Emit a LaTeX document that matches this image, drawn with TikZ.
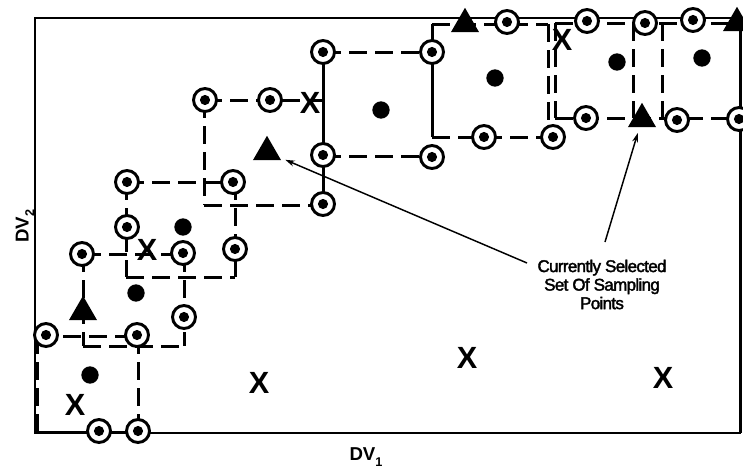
\documentclass[tikz,border=0pt]{standalone}
\usepackage{fontspec}
\setmainfont{Liberation Sans}
\newfontfamily\notefont{Liberation Sans}[LetterSpace=-4,FakeBold=2.2]
\usetikzlibrary{shapes.geometric,arrows.meta}

\begin{document}
\begin{tikzpicture}[x=0.75pt,y=-0.75pt,
  frame/.style={line width=1.5pt},
  edge/.style={line width=2.25pt, dash pattern=on 13.5pt off 6pt},
  bar/.style={line width=2.25pt},
  ring/.style={circle, draw, line width=2.2pt, fill=white, minimum size=17.25pt, inner sep=0pt,
    path picture={\fill[black] (path picture bounding box.center) circle (3.8pt);}},
  dot/.style={circle, fill, minimum size=13pt, inner sep=0pt},
  tri/.style={regular polygon, regular polygon sides=3, fill, draw=none, inner sep=0pt, minimum size=24.3pt},
  xmark/.style={font=\fontsize{23}{23}\selectfont\bfseries, inner sep=0pt},
  pointer/.style={line width=1.1pt, -{Stealth[length=7pt,width=4.5pt]}, shorten >=4.5pt},
  axis/.style={font=\fontsize{14}{14}\selectfont\bfseries, inner sep=0pt},
  note/.style={font=\notefont\fontsize{12.75}{13.9}\selectfont, align=center, inner sep=0pt}
]
\useasboundingbox (0,0) rectangle (743,468);

% plot frame
\draw[frame] (35,18) rectangle (740,433);
\draw[line width=2.25pt] (740,30) -- (740,433);

% square A
\coordinate (aTL) at (37,336); \coordinate (aTR) at (138,336);
\coordinate (aBL) at (37,432); \coordinate (aBR) at (138,432);
\draw[edge] (aTL) -- (aTR);
\draw[edge] (aTL) -- (aBL);
\draw[bar]  (aBL) -- (aBR);
\draw[edge] (aTR) -- (aBR);

% square B
\coordinate (bTL) at (83,254); \coordinate (bTR) at (184,254);
\coordinate (bBL) at (83,346); \coordinate (bBR) at (184,346);
\draw[edge] (bTL) -- (bTR);
\draw[edge] (bTL) -- (bBL);
\draw[edge] (bBL) -- (bBR);
\draw[edge] (bTR) -- (bBR);

% square C
\coordinate (cTL) at (126,182); \coordinate (cTR) at (235,182);
\coordinate (cBL) at (126,277); \coordinate (cBR) at (235,277);
\draw[edge] (cTL) -- (cTR);
\draw[edge] (cTL) -- (cBL);
\draw[edge] (cBL) -- (cBR);
\draw[edge] (cTR) -- (cBR);

% square D
\coordinate (dTL) at (204,100); \coordinate (dTR) at (323,100);
\coordinate (dBL) at (204,205); \coordinate (dBR) at (323,205);
\draw[edge] (dTL) -- (dTR);
\draw[edge] (dTL) -- (dBL);
\draw[edge] (dBL) -- (dBR);

% square E
\coordinate (eTL) at (323,52);  \coordinate (eTR) at (432,52);
\coordinate (eBL) at (323,156); \coordinate (eBR) at (432,156);
\draw[bar]  (eTL) -- (dBR);
\draw[edge] (eTL) -- (eTR);
\draw[edge] (eBL) -- (eBR);

% square F
\coordinate (fTL) at (432,24);  \coordinate (fTR) at (548,24);
\coordinate (fBL) at (432,137); \coordinate (fBR) at (548,137);
\draw[bar]  (fTL) -- (fBL);
\draw[edge] (fTL) -- (fTR);
\draw[edge] (fTR) -- (fBR);
\draw[edge] (fBL) -- (fBR);

% square G
\coordinate (gTL) at (555,23);  \coordinate (gTR) at (662,23);
\coordinate (gBL) at (555,118); \coordinate (gBR) at (662,118);
\draw[edge] (gTL) -- (gTR);
\draw[edge] (gTL) -- (gBL);
\draw[edge] (gBL) -- (gBR);
\draw[edge] (gTR) -- (gBR);

% square H
\coordinate (hTL) at (633,23);  \coordinate (hTR) at (740,23);
\coordinate (hBL) at (633,118); \coordinate (hBR) at (740,118);
\draw[edge] (hTL) -- (hTR);
\draw[edge] (hTL) -- (hBL);
\draw[edge] (hBL) -- (hBR);

% sampling points
\node[ring] (r1)  at (46,335)  {};
\node[ring] (r2)  at (137,335) {};
\node[ring] (r3)  at (99,431)  {};
\node[ring] (r4)  at (138,431) {};
\node[ring] (r5)  at (82,254)  {};
\node[ring] (r6)  at (183,253) {};
\node[ring] (r7)  at (184,317) {};
\node[ring] (r8)  at (127,227) {};
\node[ring] (r9)  at (127,182) {};
\node[ring] (r10) at (233,182) {};
\node[ring] (r11) at (235,249) {};
\node[ring] (r12) at (205,100) {};
\node[ring] (r13) at (270,100) {};
\node[ring] (r14) at (323,52)  {};
\node[ring] (r15) at (323,155) {};
\node[ring] (r16) at (323,204) {};
\node[ring] (r17) at (432,52)  {};
\node[ring] (r18) at (432,157) {};
\node[ring] (r19) at (484,137) {};
\node[ring] (r20) at (553,137) {};
\node[ring] (r21) at (507,22)  {};
\node[ring] (r22) at (587,21)  {};
\node[ring] (r23) at (645,23)  {};
\node[ring] (r24) at (693,20)  {};
\node[ring] (r25) at (586,118) {};
\node[ring] (r26) at (677,120) {};
\node[ring] (r27) at (739,119) {};

% region centres
\node[dot] (d1) at (90,375)  {};
\node[dot] (d2) at (136,293) {};
\node[dot] (d3) at (183,227) {};
\node[dot] (d4) at (381,110) {};
\node[dot] (d5) at (495,78)  {};
\node[dot] (d6) at (617,62)  {};
\node[dot] (d7) at (702,58)  {};

% selected points
\node[tri] (t1) at (83,312)  {};
\node[tri] (t2) at (267,152) {};
\node[tri] (t3) at (642,119) {};
\node[tri] (t4) at (465,24)  {};
\node[tri] (t5) at (737,23)  {};

% rejected points
\node[xmark] (x1) at (75,405)  {X};
\node[xmark] (x2) at (259,383) {X};
\node[xmark] (x3) at (467,358) {X};
\node[xmark] (x4) at (663,378) {X};
\node[xmark] (x5) at (147,250) {X};
\node[xmark] (x6) at (310,103) {X};
\node[xmark] (x7) at (562,40)  {X};

% annotation
\node[note] (note) at (602,284.5) {Currently Selected\\Set Of Sampling\\Points};
\coordinate (s1) at (527,263);
\coordinate (s2) at (605,242);
\draw[pointer] (s1) -- (t2);
\draw[pointer] (s2) -- (t3);

% axis labels
\node[axis] (dv1) at (366,457) {DV\raisebox{-0.3em}{\fontsize{9.5}{9.5}\selectfont 1}};
\node[axis, rotate=90] (dv2) at (25,226) {DV\raisebox{-0.3em}{\fontsize{9.5}{9.5}\selectfont 2}};
\end{tikzpicture}
\end{document}
